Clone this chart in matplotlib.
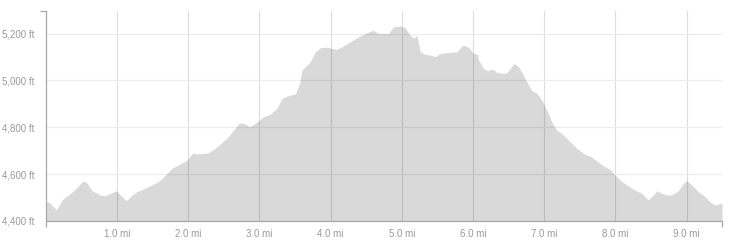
import matplotlib
matplotlib.use("Agg")
import matplotlib.pyplot as plt

plt.rcParams["font.family"] = ["Liberation Sans", "DejaVu Sans"]

# distance along the trail (mi) and elevation (ft)
dist_mi = [
    0.0, 0.055, 0.149, 0.229, 0.299, 0.392, 0.524, 0.570, 0.650, 0.766,
    0.836, 0.907, 0.991, 1.047, 1.131, 1.211, 1.281, 1.422, 1.538, 1.608,
    1.679, 1.773, 1.865, 1.983, 2.067, 2.124, 2.286, 2.404, 2.545, 2.637,
    2.721, 2.778, 2.862, 2.942, 3.058, 3.152, 3.246, 3.316, 3.387, 3.503,
    3.564, 3.597, 3.643, 3.714, 3.784, 3.854, 3.948, 4.018, 4.079, 4.159,
    4.275, 4.415, 4.594, 4.672, 4.813, 4.883, 4.977, 5.047, 5.117, 5.164,
    5.211, 5.258, 5.328, 5.398, 5.468, 5.538, 5.655, 5.773, 5.857, 5.936,
    6.006, 6.062, 6.076, 6.146, 6.202, 6.278, 6.334, 6.427, 6.474, 6.521,
    6.577, 6.637, 6.707, 6.778, 6.825, 6.896, 6.966, 7.036, 7.106, 7.166,
    7.269, 7.363, 7.457, 7.573, 7.644, 7.738, 7.830, 7.924, 7.994, 8.065,
    8.159, 8.275, 8.369, 8.462, 8.532, 8.588, 8.650, 8.720, 8.790, 8.883,
    8.953, 9.001, 9.071, 9.164, 9.258, 9.328, 9.398, 9.468, 9.496,
]
elev_ft = [
    4482, 4478, 4447, 4490, 4507, 4529, 4571, 4565, 4529, 4511,
    4507, 4518, 4529, 4511, 4487, 4511, 4525, 4544, 4561, 4575,
    4596, 4625, 4639, 4660, 4691, 4686, 4691, 4717, 4753, 4788,
    4819, 4817, 4802, 4817, 4845, 4856, 4881, 4923, 4933, 4942,
    4987, 5044, 5058, 5079, 5122, 5139, 5142, 5136, 5132, 5143,
    5165, 5190, 5214, 5200, 5200, 5229, 5232, 5224, 5193, 5179,
    5193, 5122, 5111, 5108, 5101, 5115, 5119, 5122, 5151, 5141,
    5115, 5111, 5087, 5051, 5041, 5048, 5034, 5030, 5032, 5051,
    5072, 5058, 5023, 4980, 4956, 4945, 4916, 4873, 4823, 4791,
    4767, 4738, 4710, 4684, 4677, 4656, 4635, 4620, 4596, 4575,
    4554, 4532, 4518, 4490, 4511, 4529, 4518, 4511, 4511, 4529,
    4561, 4572, 4554, 4525, 4504, 4482, 4468, 4475, 4475,
]

x_ticks = [1, 2, 3, 4, 5, 6, 7, 8, 9]
x_labels = [f"{v:.1f} mi" for v in x_ticks]
y_ticks = [4400, 4600, 4800, 5000, 5200]
y_labels = [f"{v:,} ft" for v in y_ticks]

Y_MIN, Y_MAX = 4400, 5296
X_MAX = dist_mi[-1]

C_TEXT = "#9a9a9a"
C_AXIS = "#a8a8a8"

fig = plt.figure(figsize=(7.4, 2.44), dpi=100)
ax = fig.add_axes([45.8 / 740, 1 - 221 / 244, (722 - 45.8) / 740, 210 / 244])

ax.fill_between(dist_mi, elev_ft, Y_MIN, color="#000000", alpha=0.15,
                linewidth=0, zorder=3)

ax.set_xlim(0, X_MAX)
ax.set_ylim(Y_MIN, Y_MAX)

ax.set_xticks(x_ticks)
ax.set_xticklabels(x_labels)
ax.set_yticks(y_ticks)
ax.set_yticklabels(y_labels)
# outer ticks only at the ends, like a d3 axis
ax.set_xticks([0, X_MAX], minor=True)
ax.set_yticks([Y_MIN, Y_MAX], minor=True)

ax.tick_params(which="major", length=0, labelsize=7, labelcolor=C_TEXT)
ax.tick_params(axis="x", which="major", pad=6)
ax.tick_params(axis="y", which="major", pad=8)
ax.tick_params(which="minor", length=4.3, width=0.9, color=C_AXIS)

ax.grid(axis="x", which="major", color="#dedede", linewidth=0.8, zorder=1)
ax.grid(axis="y", which="major", color="#ececec", linewidth=0.8, zorder=1)
ax.set_axisbelow(True)

for side in ("top", "right"):
    ax.spines[side].set_visible(False)
for side in ("left", "bottom"):
    ax.spines[side].set_color(C_AXIS)
    ax.spines[side].set_linewidth(0.9)
    ax.spines[side].set_zorder(4)

fig.savefig("out.png", dpi=100, facecolor="white")
